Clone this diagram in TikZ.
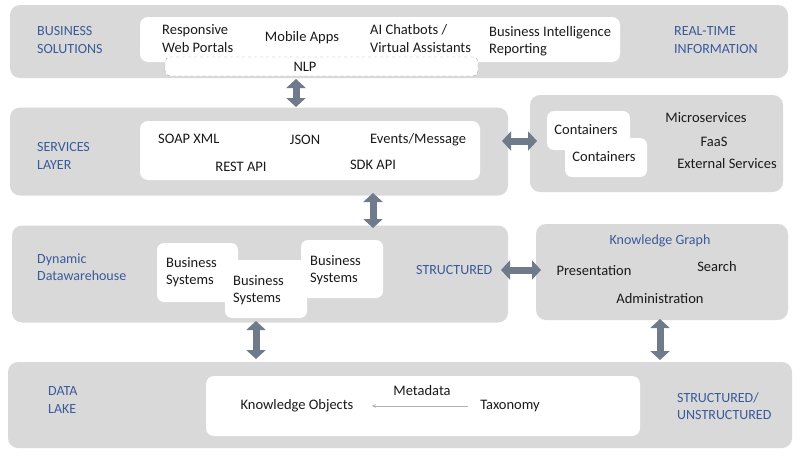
\documentclass[tikz,border=0pt]{standalone}
\usepackage{fontspec}
\setmainfont{Carlito}
\usetikzlibrary{arrows.meta}
\definecolor{panelgray}{HTML}{D9D9D9}
\definecolor{labelblue}{HTML}{3A5A9A}
\definecolor{arrowgray}{HTML}{6F7A8B}
\definecolor{arrowedge}{HTML}{5A6475}
\definecolor{txt}{HTML}{1A1A1A}
\begin{document}
\begin{tikzpicture}[x=1pt,y=-1pt,
  panel/.style={fill=panelgray,draw=none,rounded corners=10pt,inner sep=0pt},
  whitebox/.style={fill=white,draw=none,rounded corners=8pt,inner sep=0pt},
  dashbox/.style={fill=white,draw=gray!70,dashed,rounded corners=5pt,inner sep=0pt},
  lbl/.style={text=txt,font=\fontsize{14.5}{17.5}\selectfont,inner sep=0pt,align=left},
  blbl/.style={text=labelblue,font=\fontsize{14}{17.5}\selectfont,inner sep=0pt,align=left},
  bigarrow/.style={draw=arrowgray,line width=7pt,
    {Triangle[length=9pt,width=19pt,color=arrowgray]}-{Triangle[length=9pt,width=19pt,color=arrowgray]}},
  thinarrow/.style={draw=gray!60,line width=0.7pt,-{Stealth[length=4pt,width=3.5pt]}}
]
\useasboundingbox (0,0) rectangle (800,455);
\fill[white] (0,0) rectangle (800,455);

% ---------- Row 1: Business solutions ----------
\node[panel,minimum width=778pt,minimum height=73pt] (bs) at (399,41.5) {};
\node[whitebox,minimum width=480pt,minimum height=45pt] (bsw) at (380,39.5) {};
\node[dashbox,minimum width=313pt,minimum height=19pt] (nlp) at (321.5,66.5) {};
\node[lbl] (nlpt) at (305,67) {NLP};
\node[blbl,anchor=west] (bst) at (37,40) {BUSINESS\\SOLUTIONS};
\node[lbl,anchor=west] (rwp) at (162,38.5) {Responsive\\Web Portals};
\node[lbl] (mob) at (302,38) {Mobile Apps};
\node[lbl,anchor=west] (aic) at (370,38.5) {AI Chatbots /\\Virtual Assistants};
\node[lbl,anchor=west] (bir) at (489,41) {Business Intelligence\\Reporting};
\node[blbl,anchor=west] (rti) at (674,40) {REAL-TIME\\INFORMATION};

% ---------- Row 2: Services layer ----------
\node[panel,minimum width=498pt,minimum height=88pt] (sl) at (259,151.5) {};
\node[whitebox,minimum width=340pt,minimum height=59pt] (slw) at (310,150.5) {};
\node[blbl,anchor=west] (slt) at (37,156) {SERVICES\\LAYER};
\node[lbl,anchor=west] (soap) at (158,139) {SOAP XML};
\node[lbl] (json) at (305,140) {JSON};
\node[lbl,anchor=west] (evm) at (370,140) {Events/Message};
\node[lbl] (rest) at (241,167) {REST API};
\node[lbl] (sdk) at (373,165) {SDK API};

\node[panel,minimum width=253pt,minimum height=97pt] (rs) at (656.5,143.5) {};
\node[whitebox,rounded corners=7pt,minimum width=83pt,minimum height=39pt] (c1) at (588.5,130.5) {};
\node[whitebox,rounded corners=7pt,minimum width=82pt,minimum height=39pt] (c2) at (606,157.5) {};
\node[lbl] (c1t) at (586,130) {Containers};
\node[lbl] (c2t) at (604,157) {Containers};
\node[lbl] (mic) at (706,118) {Microservices};
\node[lbl] (faas) at (714,142) {FaaS};
\node[lbl] (ext) at (727,164) {External Services};

% ---------- Row 3: Dynamic datawarehouse ----------
\node[panel,minimum width=496pt,minimum height=97pt] (dw) at (260,274) {};
\node[whitebox,rounded corners=7pt,minimum width=81pt,minimum height=59pt] (bsa) at (197.5,272.5) {};
\node[whitebox,rounded corners=7pt,minimum width=82pt,minimum height=58pt] (bsc) at (342,269) {};
\node[whitebox,rounded corners=7pt,minimum width=82pt,minimum height=58pt] (bsb) at (266,289) {};
\node[lbl,anchor=west] (bsat) at (166,272) {Business\\Systems};
\node[lbl,anchor=west] (bsbt) at (233,290) {Business\\Systems};
\node[lbl,anchor=west] (bsct) at (310,270) {Business\\Systems};
\node[blbl,anchor=west] (dwt) at (37,267) {Dynamic\\Datawarehouse};
\node[blbl,anchor=west] (str) at (416,270) {STRUCTURED};

\node[panel,minimum width=252pt,minimum height=96pt] (kg) at (662,272) {};
\node[blbl] (kgt) at (660,241) {Knowledge Graph};
\node[lbl] (pres) at (594,271) {Presentation};
\node[lbl] (srch) at (717,267) {Search};
\node[lbl] (adm) at (660,299) {Administration};

% ---------- Row 4: Data lake ----------
\node[panel,minimum width=784pt,minimum height=86pt] (dl) at (400,405) {};
\node[whitebox,minimum width=434pt,minimum height=60pt] (dlw) at (423,406) {};
\node[blbl,anchor=west] (dlt) at (48,400) {DATA\\LAKE};
\node[lbl] (ko) at (297,406) {Knowledge Objects};
\node[lbl] (meta) at (422,391) {Metadata};
\node[lbl] (tax) at (510,406) {Taxonomy};
\node[blbl,anchor=west] (su) at (677,406) {STRUCTURED/\\UNSTRUCTURED};
\draw[thinarrow] (tax.west) ++(-12,0) coordinate (taxl) -- (ko.east -| 372,0);

% ---------- Big connectors ----------
\coordinate (a1s) at (296,79);
\coordinate (a1e) at (296,107);
\coordinate (a2s) at (502,141);
\coordinate (a2e) at (537,141);
\coordinate (a3s) at (373,193);
\coordinate (a3e) at (373,228);
\coordinate (a4s) at (501,270);
\coordinate (a4e) at (541,270);
\coordinate (a5s) at (256,321);
\coordinate (a5e) at (256,359);
\coordinate (a6s) at (660,319);
\coordinate (a6e) at (660,360);
\draw[bigarrow,shorten <=0pt] (a1s) -- (a1e);
\draw[bigarrow] (a2s) -- (a2e);
\draw[bigarrow] (a3s) -- (a3e);
\draw[bigarrow] (a4s) -- (a4e);
\draw[bigarrow] (a5s) -- (a5e);
\draw[bigarrow] (a6s) -- (a6e);
\end{tikzpicture}
\end{document}
